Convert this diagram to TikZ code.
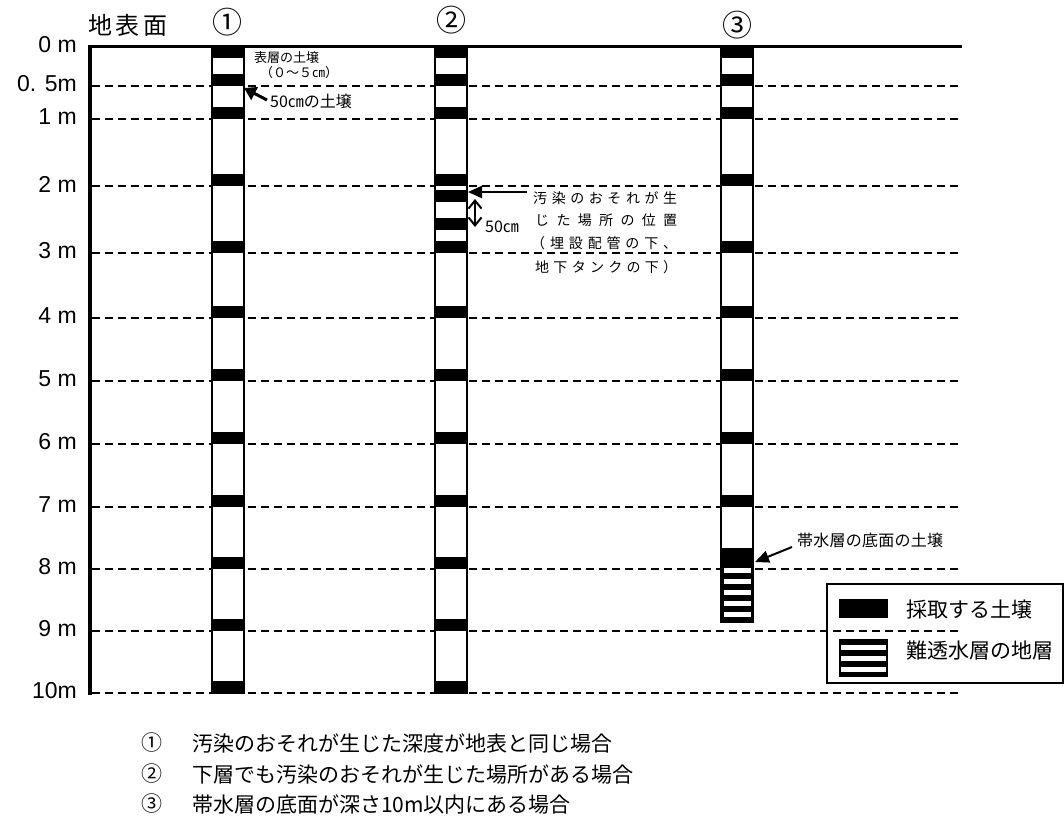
\documentclass[tikz,border=0pt]{standalone}
\usepackage{fontspec}
\setmainfont{Noto Sans CJK JP}
\newfontfamily\arialfont{Liberation Sans}
\usetikzlibrary{arrows.meta}
\makeatletter
\newcommand\spreadtxt[2]{\makebox[#1][s]{\spr@aux#2\relax}}
\def\spr@aux#1#2{#1\ifx\relax#2\else\hfill\expandafter\spr@aux\expandafter#2\fi}
\makeatother
\begin{document}
\begin{tikzpicture}[x=1pt,y=-1pt,
  dline/.style={line width=1.2pt,dash pattern=on 8pt off 5pt},
  colbox/.style={fill=white},
  coledge/.style={draw,line width=1.8pt},
  band/.style={fill=black},
  deplab/.style={font=\arialfont\fontsize{23}{23}\selectfont,anchor=east,inner sep=0pt},
  numlab/.style={font=\fontsize{30}{30}\selectfont,inner sep=0pt},
  small/.style={font=\fontsize{13}{13}\selectfont,inner sep=0pt,anchor=west},
  mid/.style={font=\fontsize{14}{14}\selectfont,inner sep=0pt,anchor=west},
  legtxt/.style={font=\fontsize{21}{21}\selectfont,inner sep=0pt,anchor=west},
  listtxt/.style={font=\fontsize{21}{21}\selectfont,inner sep=0pt,anchor=west},
  bigarrow/.style={line width=3pt,-{Triangle[length=12pt,width=14pt]}},
  medarrow/.style={line width=2pt,-{Triangle[length=14pt,width=12pt]}},
]
\useasboundingbox (0,0) rectangle (1064,816);
% dashed depth lines
\foreach \yy in {86,119,186,253,318,381,444,507,569,631,693}
  \draw[dline] (92,\yy) -- (962,\yy);
% surface and axis
\draw[line width=3pt] (90,47) -- (962,47);
\draw[line width=4pt] (90,45.5) -- (90,695);
% depth labels
\node[deplab] (d0) at (77,45) {0 m};
\node[deplab] (d05) at (77,84) {0. 5m};
\node[deplab] (d1) at (77,117) {1 m};
\node[deplab] (d2) at (77,184) {2 m};
\node[deplab] (d3) at (77,251) {3 m};
\node[deplab] (d4) at (77,316) {4 m};
\node[deplab] (d5) at (77,379) {5 m};
\node[deplab] (d6) at (77,442) {6 m};
\node[deplab] (d7) at (77,505) {7 m};
\node[deplab] (d8) at (77,567) {8 m};
\node[deplab] (d9) at (77,629) {9 m};
\node[deplab] (d10) at (77,691) {10m};
% heading
\node[font=\fontsize{24}{24}\selectfont,inner sep=0pt,anchor=west] (surf) at (88,25) {\spreadtxt{79pt}{地表面}};
\node[numlab] (n1) at (227,22) {①};
\node[numlab] (n2) at (451,20) {②};
\node[numlab] (n3) at (737,25) {③};
% column 1 and 2
\foreach \xl in {212,435}{
  \fill[colbox] (\xl,47) rectangle (\xl+32,693);
  \fill[band] (\xl,47) rectangle (\xl+32,58);
  \foreach \yy in {86,119,186,253,318,381,444,507,569,631,693}
    \fill[band] (\xl,\yy-12) rectangle (\xl+32,\yy);
}
% extra bands column 2
\fill[band] (435,190) rectangle (467,202);
\fill[band] (435,218) rectangle (467,230);
\foreach \xl in {212,435}
  \draw[coledge] (\xl,47) rectangle (\xl+32,693);
% column 3
\fill[colbox] (721,47) rectangle (753,622);
\fill[band] (721,47) rectangle (753,58);
\foreach \yy in {86,119,186,253,318,381,444,507}
  \fill[band] (721,\yy-12) rectangle (753,\yy);
\fill[band] (721,548) rectangle (753,622);
\foreach \yy in {568,579,590,601,612}
  \fill[white] (723.5,\yy) rectangle (750.5,\yy+5);
\draw[coledge] (721,47) rectangle (753,622);
% annotations column 1
\node[small] (top1) at (254,58) {表層の土壌};
\node[small] (top2) at (260,73) {\spreadtxt{62pt}{（０～５㎝）}};
\node[font=\fontsize{16}{16}\selectfont,inner sep=0pt,anchor=west] (t50) at (270,101) {50㎝の土壌};
\coordinate (a50) at (244,88);
\draw[bigarrow] (t50.west) ++(-3,-1) -- (a50);
% annotations column 2
\node[mid] (p1) at (533,198) {\spreadtxt{144pt}{汚染のおそれが生}};
\node[mid] (p2) at (535,220) {\spreadtxt{142pt}{じた場所の位置}};
\node[mid] (p3) at (531,243) {\spreadtxt{146pt}{（埋設配管の下、}};
\node[mid] (p4) at (535,267) {\spreadtxt{142pt}{地下タンクの下）}};
\coordinate (ap) at (468,192);
\draw[medarrow] (527,192) -- (ap);
\coordinate (dA) at (475,199);
\coordinate (dB) at (475,227);
\draw[line width=2pt,{Straight Barb[length=8pt,width=13pt]}-{Straight Barb[length=8pt,width=13pt]}] (dA) -- (dB);
\node[font=\fontsize{16}{16}\selectfont,inner sep=0pt,anchor=west] (c50) at (485,227) {50㎝};
% annotation column 3
\node[font=\fontsize{16}{16}\selectfont,inner sep=0pt,anchor=west] (aq) at (797,540) {\spreadtxt{146pt}{帯水層の底面の土壌}};
\coordinate (aqa) at (755,562);
\draw[medarrow] (792,547) -- (aqa);
% legend
\node[draw,line width=1.5pt,minimum width=236pt,minimum height=99pt,inner sep=0pt,anchor=north west] (leg) at (826,583) {};
\fill (839,599) rectangle (888,618);
\fill (839,639) rectangle (888,677);
\foreach \yy in {645,656,667}
  \fill[white] (841,\yy) rectangle (886,\yy+5);
\node[legtxt] (l1) at (906,610) {採取する土壌};
\node[legtxt] (l2) at (906,651) {難透水層の地層};
% bottom list
\node[listtxt] (b1n) at (141,743) {①};
\node[listtxt] (b1) at (192,743) {汚染のおそれが生じた深度が地表と同じ場合};
\node[listtxt] (b2n) at (141,774) {②};
\node[listtxt] (b2) at (192,774) {下層でも汚染のおそれが生じた場所がある場合};
\node[listtxt] (b3n) at (141,804) {③};
\node[listtxt] (b3) at (192,804) {帯水層の底面が深さ10m以内にある場合};
\end{tikzpicture}
\end{document}
